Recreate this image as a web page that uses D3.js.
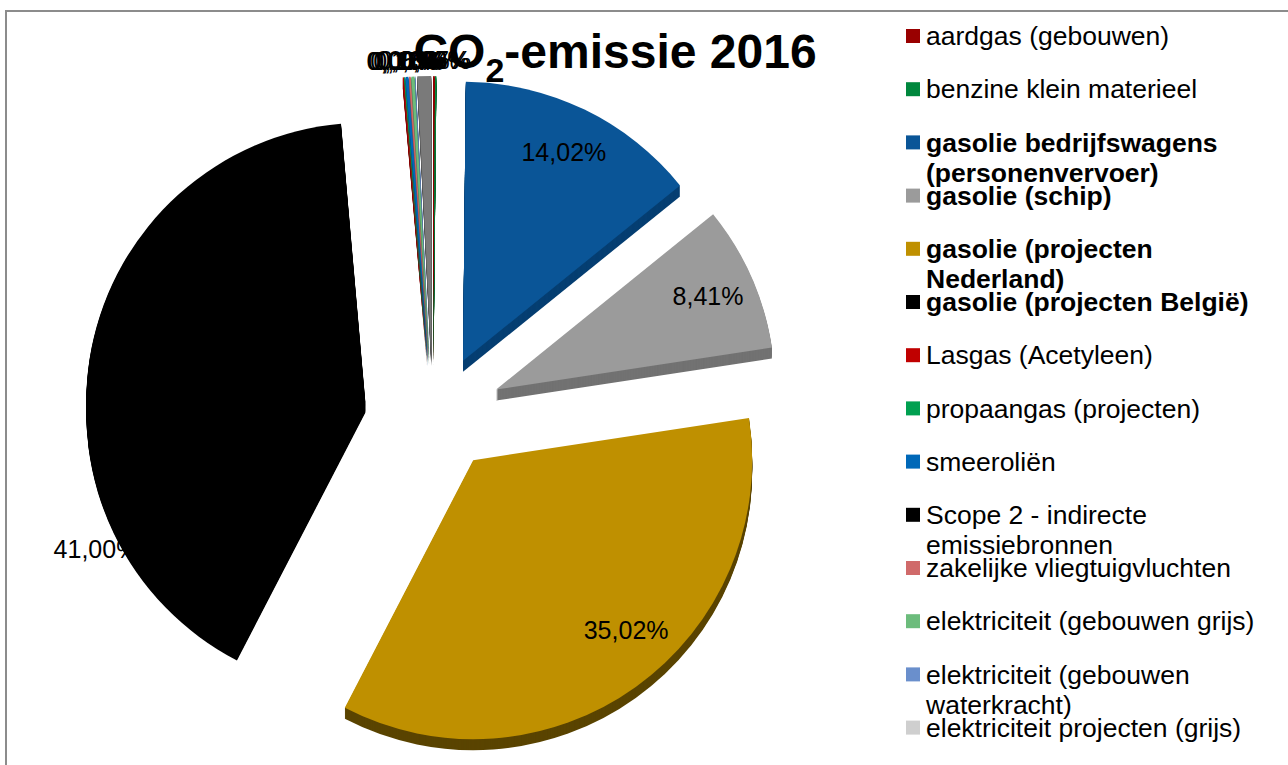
<!DOCTYPE html>
<html>
<head>
<meta charset="utf-8">
<script src="https://cdn.jsdelivr.net/npm/d3@7"></script>
<style>
  html, body { margin: 0; padding: 0; background: #fff; }
  svg { display: block; font-family: "Liberation Sans", Arial, sans-serif; }
</style>
</head>
<body>
<svg id="chart" width="1288" height="765"></svg>
<script>
// ---- data ----
const categories = [
  "aardgas (gebouwen)",
  "benzine klein materieel",
  "gasolie bedrijfswagens (personenvervoer)",
  "gasolie (schip)",
  "gasolie (projecten Nederland)",
  "gasolie (projecten België)",
  "Lasgas (Acetyleen)",
  "propaangas (projecten)",
  "smeeroliën",
  "Scope 2 - indirecte emissiebronnen",
  "zakelijke vliegtuigvluchten",
  "elektriciteit (gebouwen grijs)",
  "elektriciteit (gebouwen waterkracht)",
  "elektriciteit projecten (grijs)"
];
const values = [0.09, 0.07, 14.02, 8.41, 35.02, 41.00, 0.06, 0.05, 0.17, 0, 0.10, 0.18, 0.03, 0.80];
const colors = ["#990000", "#00873d", "#0a5597", "#9b9b9b", "#bf9000", "#000000",
                "#c00000", "#00a050", "#0068b8", "#000000", "#d06a6a", "#6cbc7c",
                "#6a8fcc", "#cfcfcf"];
const boldItems = [false, false, true, true, true, true, false, false, false, false, false, false, false, false];
const titleMain = "CO";
const titleSub = "2";
const titleRest = "-emissie 2016";

// ---- layout ----
const svg = d3.select("#chart");
const W = 1288, H = 765;

svg.append("rect").attr("x", 6).attr("y", 11).attr("width", W + 20).attr("height", H + 20)
  .attr("fill", "#fff").attr("stroke", "#8c8c8c").attr("stroke-width", 2);

const cx = 433, cy = 413, R = 279, explodeX = 69, explodeY = 58, depth = 11;

const data = categories.map((c, i) => ({ name: c, value: values[i], color: colors[i], bold: boldItems[i], i }));

const pie = d3.pie().value(d => d.value).sort(null).startAngle(0).endAngle(2 * Math.PI);
const arcs = pie(data);
const arc = d3.arc().innerRadius(0).outerRadius(R);

function offset(d) {
  const m = (d.startAngle + d.endAngle) / 2;
  return [cx + explodeX * Math.sin(m), cy - explodeY * Math.cos(m)];
}

function shade(col, i) {
  if (i === 13) return "#7a7a7a";
  return col;
}
function sideShade(col, i) {
  const sides = { 2: "#063f72", 3: "#727272", 4: "#5a4400", 5: "#000000" };
  if (sides[i]) return sides[i];
  return d3.color(shade(col, i)).darker(1).formatHex();
}

const pieG = svg.append("g");
const drawn = arcs.filter(d => d.data.value > 0);

// sides (extrusion)
drawn.forEach(d => {
  const [ox, oy] = offset(d);
  const g = pieG.append("g").attr("transform", `translate(${ox},${oy})`);
  for (let k = depth; k >= 1; k--) {
    g.append("path").attr("d", arc(d)).attr("transform", `translate(0,${k})`)
      .attr("fill", sideShade(d.data.color, d.data.i));
  }
});
// top faces
drawn.forEach(d => {
  const [ox, oy] = offset(d);
  pieG.append("path").attr("d", arc(d)).attr("transform", `translate(${ox},${oy})`)
    .attr("fill", shade(d.data.color, d.data.i));
});

// data labels
const fmt = v => d3.format(".2f")(v).replace(".", ",") + "%";
const labelG = svg.append("g").attr("font-size", 25).attr("fill", "#000").attr("text-anchor", "middle");
drawn.forEach(d => {
  const [ox, oy] = offset(d);
  let a, r;
  const span = d.endAngle - d.startAngle;
  if (d.data.value < 1) { a = (d.startAngle + d.endAngle) / 2; r = R + 16; }
  else if (d.data.value > 40) { a = d.startAngle + span * 0.23; r = R * 1.1; }
  else if (d.data.value > 30) { a = d.startAngle + span * 0.45; r = R * 0.82; }
  else { a = (d.startAngle + d.endAngle) / 2; r = R * 0.83; }
  labelG.append("text")
    .attr("x", ox + r * Math.sin(a))
    .attr("y", oy - r * Math.cos(a))
    .attr("dy", "0.35em")
    .text(fmt(d.data.value));
});

// title
const title = svg.append("text").attr("x", 615).attr("y", 68).attr("text-anchor", "middle")
  .attr("font-size", 48).attr("font-weight", "bold").attr("fill", "#000");
title.append("tspan").text(titleMain);
title.append("tspan").attr("font-size", 34).attr("dy", 14).text(titleSub);
title.append("tspan").attr("dy", -14).text(titleRest);

// legend
const lx = 906, ly0 = 36, lstep = 53.2, lineH = 30, maxW = 350;
const legG = svg.append("g").attr("font-size", 26.5).attr("fill", "#000");
data.forEach((d, i) => {
  const y = ly0 + i * lstep;
  legG.append("rect").attr("x", lx).attr("y", y - 7).attr("width", 14).attr("height", 14).attr("fill", d.color);
  const t = legG.append("text").attr("x", lx + 20).attr("y", y)
    .attr("font-weight", d.bold ? "bold" : "normal");
  const words = d.name.split(" ");
  let line = [], tspan = t.append("tspan").attr("x", lx + 20).attr("dy", "0.35em");
  words.forEach(w => {
    line.push(w);
    tspan.text(line.join(" "));
    if (tspan.node().getComputedTextLength() > maxW && line.length > 1) {
      line.pop();
      tspan.text(line.join(" "));
      line = [w];
      tspan = t.append("tspan").attr("x", lx + 20).attr("dy", lineH).text(w);
    }
  });
});
</script>
</body>
</html>
